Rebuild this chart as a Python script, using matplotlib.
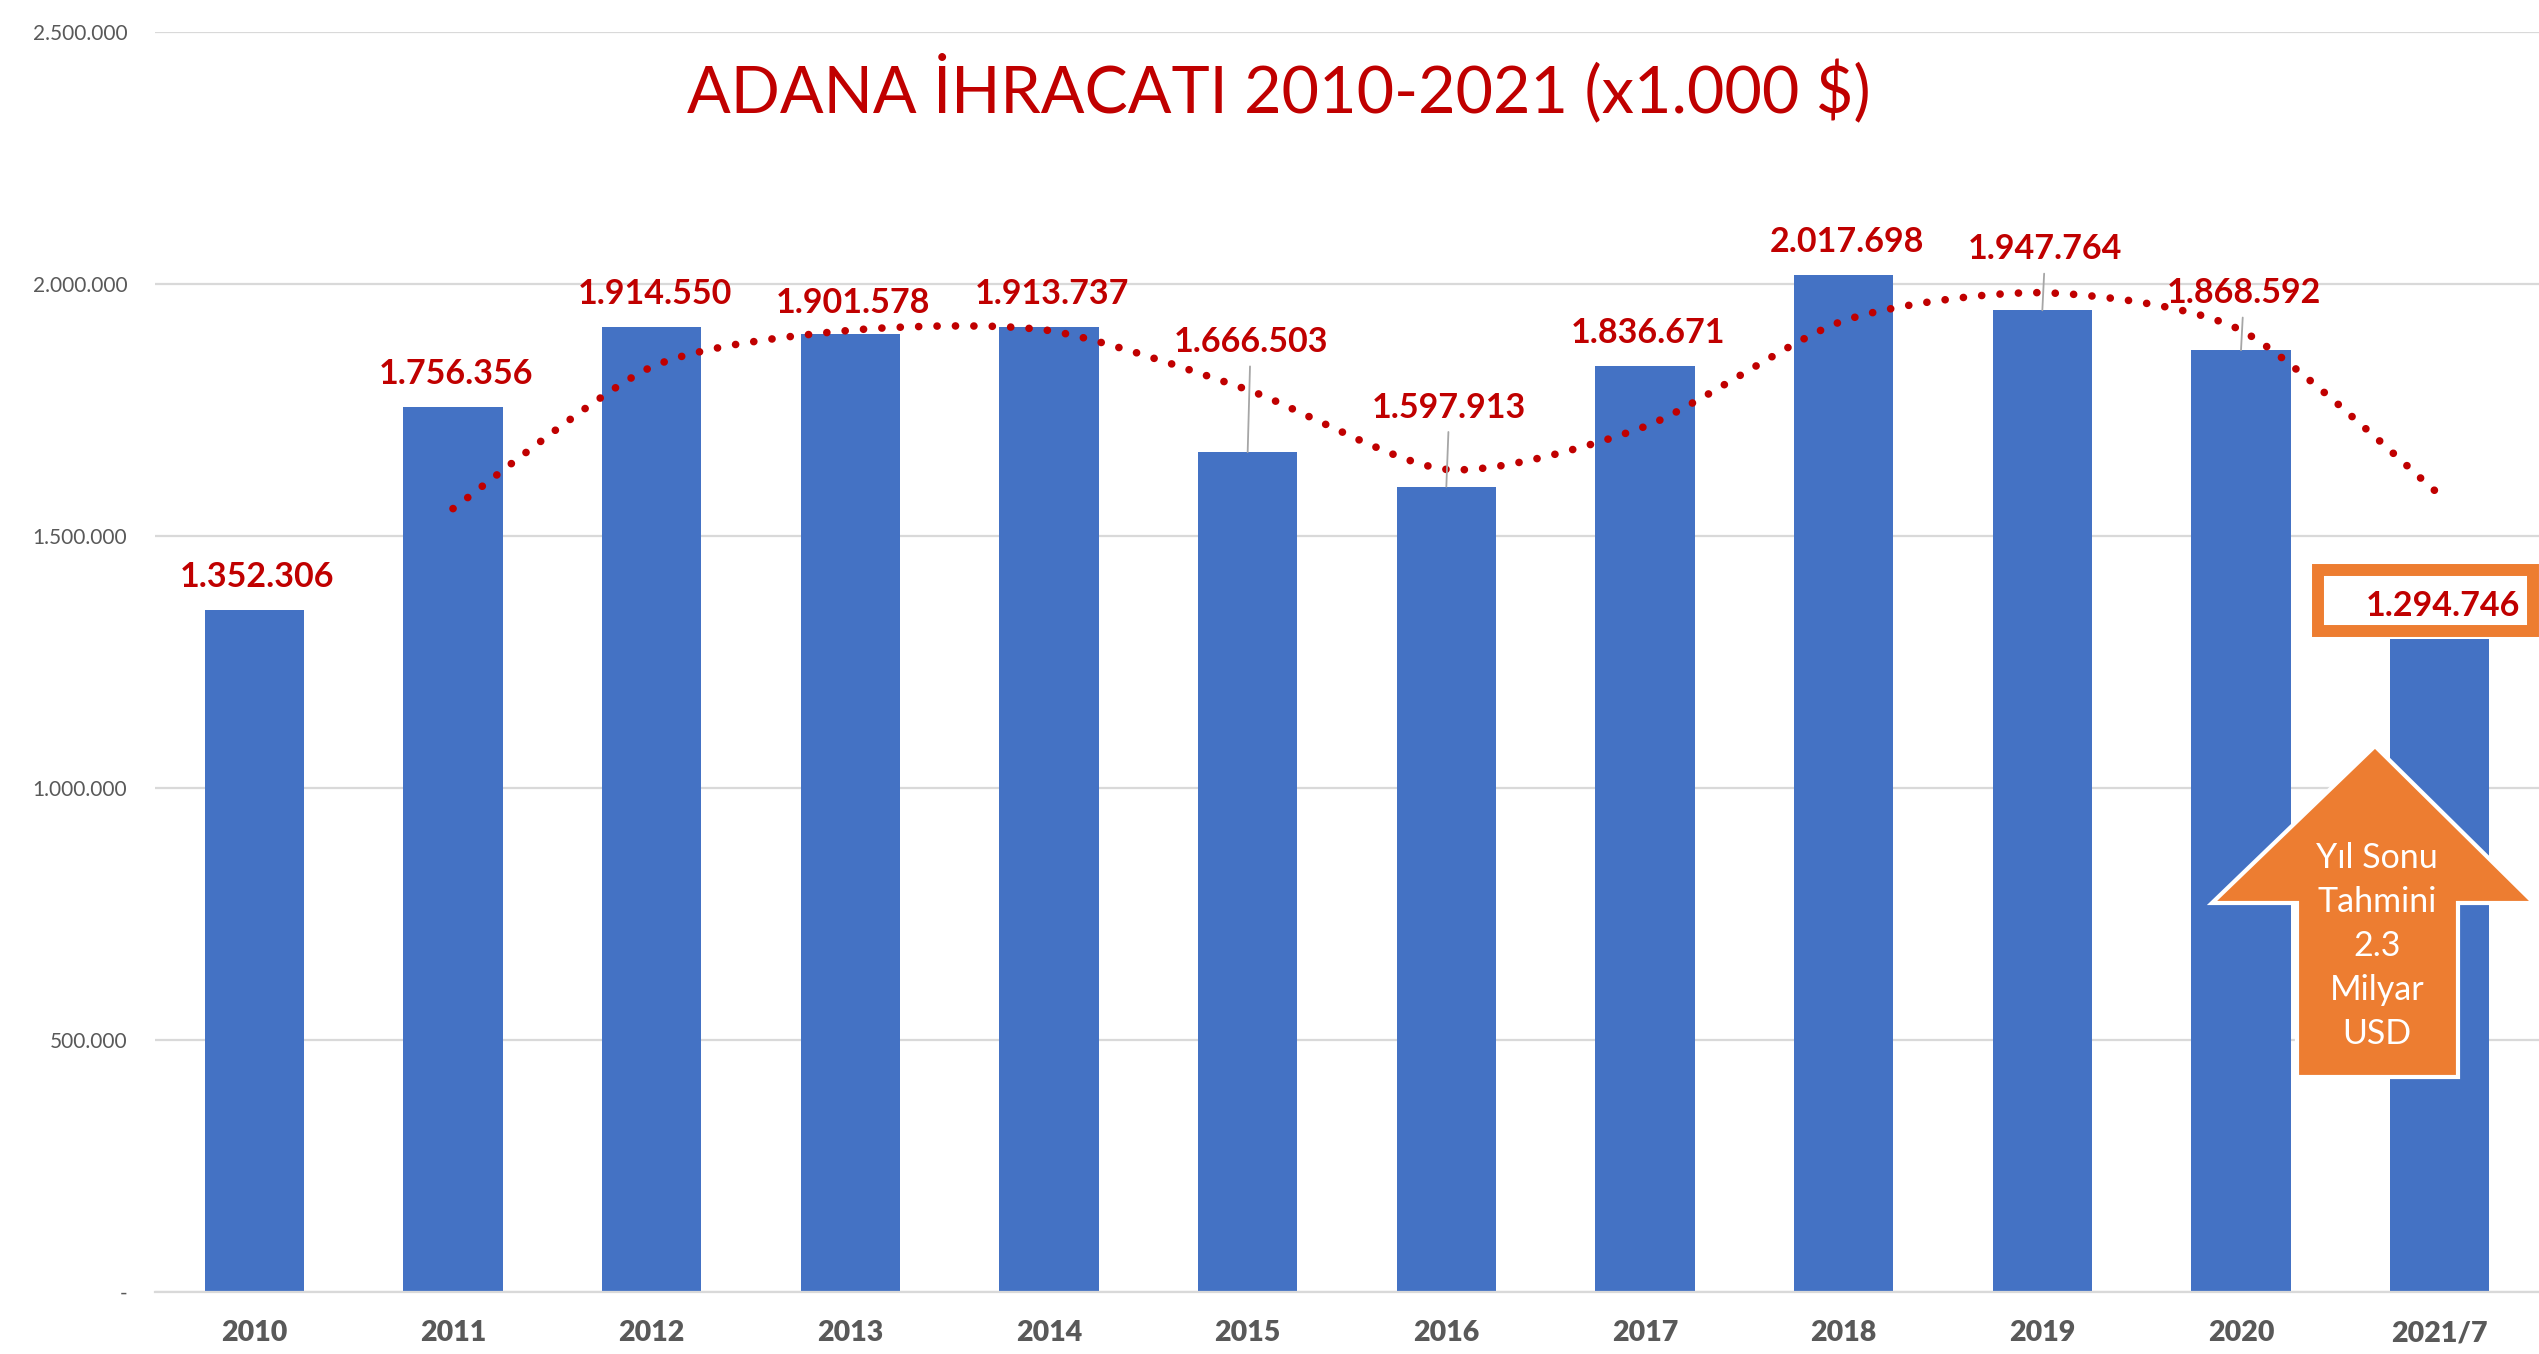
import matplotlib
matplotlib.use("Agg")
import matplotlib.pyplot as plt
import matplotlib.transforms as mtransforms
from matplotlib.path import Path
from matplotlib.patches import PathPatch, Polygon, Rectangle
from matplotlib.ticker import FuncFormatter
import numpy as np

plt.rcParams['font.family'] = ['Lato', 'DejaVu Sans']

years = ['2010', '2011', '2012', '2013', '2014', '2015', '2016', '2017',
         '2018', '2019', '2020', '2021/7']
exports = [1352306, 1756356, 1914550, 1901578, 1913737, 1666503, 1597913,
           1836671, 2017698, 1947764, 1868592, 1294746]
title = 'ADANA İHRACATI 2010-2021 (x1.000 $)'
note = 'Yıl Sonu\nTahmini\n2.3\nMilyar\nUSD'

# label heights above bar top (pixels) and which ones get a leader line
label_up = [33, 33, 33, 31, 33, 110, 79, 33, 33, 61, 57, 33]
leader = [False, False, False, False, False, True, True, False, False, True, True, False]

W, H = 2539, 1354
blue = '#4472C4'
red = '#C00000'
orange = '#ED7D31'
gray = '#595959'
grid = '#D9D9D9'

fig = plt.figure(figsize=(W / 100, H / 100), dpi=100)
ax = fig.add_axes([155 / W, 1 - 1292 / H, 1 - 155 / W, (1292 - 32) / H])
px = mtransforms.Affine2D().scale(1 / W, -1 / H).translate(0, 1) + fig.transFigure

x = np.arange(len(years))
ax.bar(x, exports, width=0.5, color=blue, zorder=2)
ax.set_xlim(-0.5, len(years) - 0.5)
ax.set_ylim(0, 2500000)
ax.set_yticks(np.arange(0, 2500001, 500000))
ax.yaxis.set_major_formatter(FuncFormatter(
    lambda v, p: '-' if v == 0 else f'{int(v):,}'.replace(',', '.')))
ax.set_xticks(x)
ax.set_xticklabels(years, fontsize=20.5, fontweight='heavy', color=gray)
ax.tick_params(axis='x', length=0, pad=20.5)
ax.tick_params(axis='y', length=0, pad=20, labelsize=15, labelcolor=gray)
ax.grid(axis='y', color=grid, lw=1.6, zorder=0)
for s in ['top', 'right', 'left']:
    ax.spines[s].set_visible(False)
ax.spines['bottom'].set_color(grid)
ax.spines['bottom'].set_linewidth(1.6)

# 2 period moving average trendline, smoothed
ma = [(exports[i - 1] + exports[i]) / 2 for i in range(1, len(exports))]
pts = np.array([[i + 1, v] for i, v in enumerate(ma)], dtype=float)
n = len(pts)
verts = [pts[0]]
codes = [Path.MOVETO]
t = 8  # tangent divisor, a bit flatter than catmull-rom
for k in range(n - 1):
    pm = pts[max(k - 1, 0)]
    p0 = pts[k]
    p1 = pts[k + 1]
    p2 = pts[min(k + 2, n - 1)]
    verts += [p0 + (p1 - pm) / t, p1 - (p2 - p0) / t, p1]
    codes += [Path.CURVE4] * 3
trend = PathPatch(Path(verts, codes), fill=False, ec=red, lw=5.5,
                  linestyle=(0, (0.01, 2.4)), capstyle='round', zorder=3)
ax.add_patch(trend)

# data labels
for i, v in enumerate(exports):
    kw = {}
    if leader[i]:
        kw['arrowprops'] = dict(arrowstyle='-', color='#A6A6A6', lw=1.3,
                                shrinkA=4, shrinkB=0)
    ax.annotate(f'{v:,}'.replace(',', '.'), xy=(i, v),
                xytext=(3, label_up[i]), textcoords='offset pixels',
                ha='center', va='center', fontsize=24.5, fontweight='bold',
                color=red, zorder=5, **kw)

# orange frame around the last label
ax.add_patch(Rectangle((2318, 570), 215, 61, transform=px, fc='white',
                       ec=orange, lw=8.6, clip_on=False, zorder=4))

# up arrow with the note
arrow = [(2375, 746), (2534, 903), (2458, 903), (2458, 1077),
         (2297, 1077), (2297, 903), (2212, 903)]
ax.add_patch(Polygon(arrow, closed=True, transform=px, fc=orange, ec='white',
                     lw=3, clip_on=False, zorder=6))
ax.text(2377, 946, note, transform=px, ha='center', va='center',
        fontsize=24.5, color='white', linespacing=1.47, zorder=7)

fig.text(1279 / W, 1 - 112 / H, title, ha='center', va='baseline',
         fontsize=46.5, color=red)

fig.savefig('out.png', dpi=100)
